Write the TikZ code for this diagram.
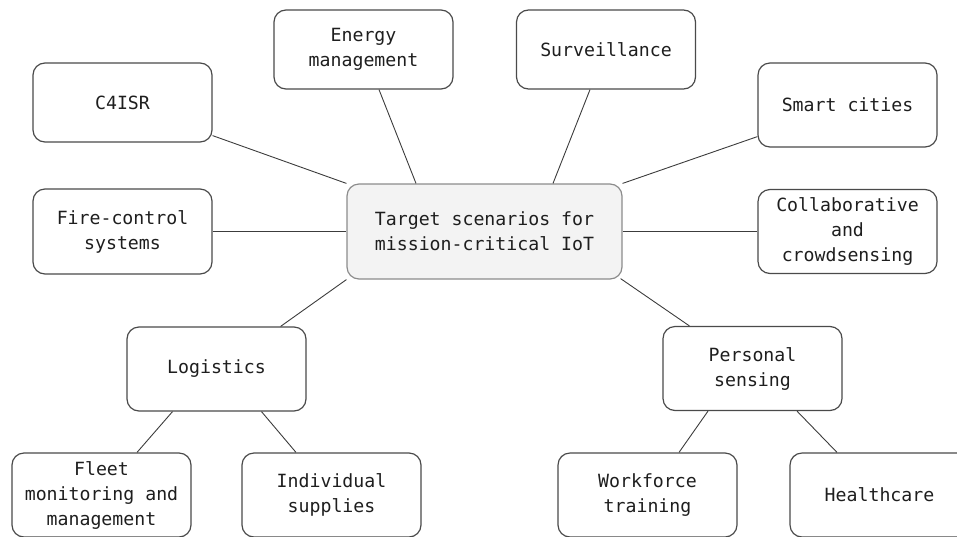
\documentclass[tikz,border=0pt]{standalone}
\usepackage{fontspec}
\setmonofont{DejaVu Sans Mono}
\usetikzlibrary{calc}
\definecolor{boxline}{HTML}{4A4A4A}
\definecolor{linkline}{HTML}{3C3C3C}
\definecolor{hubline}{HTML}{8C8C8C}
\definecolor{hubfill}{HTML}{F3F3F3}
\definecolor{txt}{HTML}{1E1E1E}
\begin{document}
\begin{tikzpicture}[x=1pt,y=-1pt,
  box/.style={draw=boxline, line width=1.2pt, rounded corners=12pt,
    minimum width=179pt, align=center, inner sep=0pt, text=txt,
    font=\ttfamily\fontsize{18.2}{25}\selectfont,
    execute at begin node={\vspace*{6pt}}},
  hub/.style={box, draw=hubline, fill=hubfill, minimum width=275pt, minimum height=95pt},
  link/.style={draw=linkline, line width=0.9pt}]
\useasboundingbox (0,0) rectangle (957,536);

% central topic
\node[hub] (hub) at (484.5,231.5) {Target scenarios for\\mission-critical IoT};

% first ring of scenarios
\node[box, minimum height=79pt] (c4) at (122.5,102.5) {C4ISR};
\node[box, minimum height=79pt] (energy) at (363.5,49.5) {Energy\\management};
\node[box, minimum height=79pt] (surv) at (606,49.5) {Surveillance};
\node[box, minimum height=84pt] (smart) at (847.5,105) {Smart cities};
\node[box, minimum height=85pt] (fire) at (122.5,231.5) {Fire-control\\systems};
\node[box, minimum height=84pt] (collab) at (847.5,231.5) {Collaborative\\and\\crowdsensing};
\node[box, minimum height=84pt] (logi) at (216.5,369) {Logistics};
\node[box, minimum height=84pt] (pers) at (752.5,368.5) {Personal\\sensing};

% second level
\node[box, minimum height=84pt] (fleet) at (101.5,495) {Fleet\\monitoring and\\management};
\node[box, minimum height=84pt] (indiv) at (331.5,495) {Individual\\supplies};
\node[box, minimum height=84pt] (work) at (647.5,495) {Workforce\\training};
\node[box, minimum height=84pt] (health) at (879.5,495) {Healthcare};

% connectors from the hub
\draw[link] ($(c4.south east)+(0,-7)$) -- (hub.north west);
\draw[link] ($(energy.south)+(15.5,0)$) -- ($(hub.north)+(-68.5,0)$);
\draw[link] ($(surv.south)+(-16,0)$) -- ($(hub.north)+(68.5,0)$);
\draw[link] ($(smart.south west)+(0,-11)$) -- (hub.north east);
\draw[link] (fire.east) -- (hub.west);
\draw[link] (hub.east) -- (collab.west);
\draw[link] ($(logi.north east)+(-26,0)$) -- (hub.south west);
\draw[link] ($(pers.north west)+(27,0)$) -- ($(hub.south east)+(-2,-1)$);

% connectors to the second level
\draw[link] ($(logi.south)+(-44,0)$) -- ($(fleet.north)+(35.5,0)$);
\draw[link] ($(logi.south)+(45,0)$) -- ($(indiv.north)+(-35.5,0)$);
\draw[link] ($(pers.south)+(-44.5,0)$) -- ($(work.north)+(31.5,0)$);
\draw[link] ($(pers.south)+(44.5,0)$) -- ($(health.north)+(-42.5,0)$);
\end{tikzpicture}
\end{document}
